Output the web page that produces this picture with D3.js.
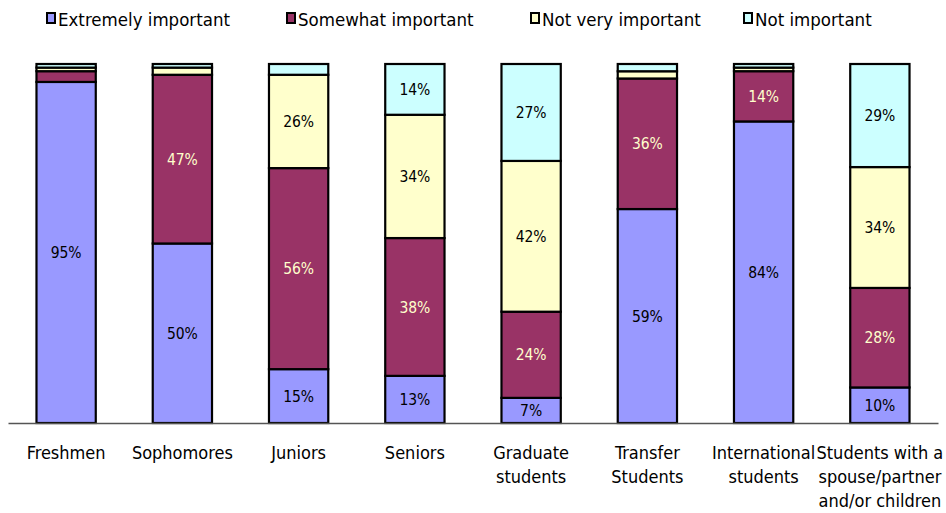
<!DOCTYPE html>
<html>
<head>
<meta charset="utf-8">
<script src="https://cdn.jsdelivr.net/npm/d3@7/dist/d3.min.js"></script>
<style>
  html, body { margin: 0; padding: 0; background: #fff; }
  svg { display: block; font-family: "DejaVu Sans Condensed", "DejaVu Sans", sans-serif; }
</style>
</head>
<body>
<svg id="chart" width="946" height="513"></svg>
<script>
// Student groups (line breaks mark wrapped axis labels)
const categories = [
  "Freshmen",
  "Sophomores",
  "Juniors",
  "Seniors",
  "Graduate\nstudents",
  "Transfer\nStudents",
  "International\nstudents",
  "Students with a\nspouse/partner\nand/or children"
];

const seriesNames = ["Extremely important", "Somewhat important", "Not very important", "Not important"];

// Percent of respondents in each group
const extremelyImportant = [95, 50, 15, 13, 7, 59, 84, 10];
const somewhatImportant  = [3, 47, 56, 38, 24, 36, 14, 28];
const notVeryImportant   = [1, 2, 26, 34, 42, 2, 1, 34];
const notImportant       = [1, 1, 3, 14, 27, 2, 1, 29];

// Only segments large enough carry a label
const labelMin = 5;

const colors = ["#9999FF", "#993366", "#FFFFCC", "#CCFFFF"];
const labelColors = ["#000000", "#FFFFCC", "#000000", "#000000"];

const rows = categories.map((c, i) => ({
  category: c,
  [seriesNames[0]]: extremelyImportant[i],
  [seriesNames[1]]: somewhatImportant[i],
  [seriesNames[2]]: notVeryImportant[i],
  [seriesNames[3]]: notImportant[i]
}));

// 100% stacked layout
const stacked = d3.stack().keys(seriesNames).offset(d3.stackOffsetExpand)(rows);

const svg = d3.select("#chart");
const plot = { left: 8, right: 938, top: 64, bottom: 423 };

const x = d3.scaleBand()
  .domain(categories)
  .range([plot.left, plot.right])
  .paddingInner(0.49)
  .paddingOuter(0.245);

const y = d3.scaleLinear().domain([0, 1]).range([plot.bottom, plot.top]);

// Bars
const layers = svg.append("g").selectAll("g")
  .data(stacked)
  .join("g");

layers.selectAll("rect")
  .data((s, si) => s.map(d => ({ d, si })))
  .join("rect")
  .attr("x", p => x(p.d.data.category))
  .attr("width", x.bandwidth())
  .attr("y", p => y(p.d[1]))
  .attr("height", p => y(p.d[0]) - y(p.d[1]))
  .attr("fill", p => colors[p.si])
  .attr("stroke", "#000")
  .attr("stroke-width", 2.2);

// Segment value labels
layers.selectAll("text")
  .data((s, si) => s.map(d => ({ d, si, key: s.key })).filter(p => p.d.data[p.key] >= labelMin))
  .join("text")
  .attr("x", p => x(p.d.data.category) + x.bandwidth() / 2)
  .attr("y", p => (y(p.d[0]) + y(p.d[1])) / 2)
  .attr("dy", "0.36em")
  .attr("text-anchor", "middle")
  .attr("font-size", 15.5)
  .attr("fill", p => labelColors[p.si])
  .text(p => p.d.data[p.key] + "%");

// Baseline
const xAxis = d3.axisBottom(x).tickSize(0).tickFormat("");
const axisG = svg.append("g")
  .attr("transform", `translate(0,${plot.bottom})`)
  .call(xAxis);
axisG.select(".domain").attr("stroke", "#555").attr("stroke-width", 1.3);

// Category labels, one tspan per line
const catLabels = svg.append("g").selectAll("text")
  .data(categories)
  .join("text")
  .attr("text-anchor", "middle")
  .attr("font-size", 18)
  .attr("fill", "#000");

catLabels.selectAll("tspan")
  .data(c => c.split("\n").map(line => ({ c, line })))
  .join("tspan")
  .attr("x", t => x(t.c) + x.bandwidth() / 2)
  .attr("y", (t, i) => 459 + i * 24)
  .text(t => t.line);

// Legend
const legendX = [47, 287, 531, 744];
const legend = svg.append("g").selectAll("g")
  .data(seriesNames)
  .join("g")
  .attr("transform", (d, i) => `translate(${legendX[i]},13)`);

legend.append("rect")
  .attr("width", 8)
  .attr("height", 10)
  .attr("fill", (d, i) => colors[i])
  .attr("stroke", "#000")
  .attr("stroke-width", 2);

legend.append("text")
  .attr("x", 11)
  .attr("y", 13)
  .attr("font-size", 18.5)
  .attr("fill", "#000")
  .text(d => d);
</script>
</body>
</html>
